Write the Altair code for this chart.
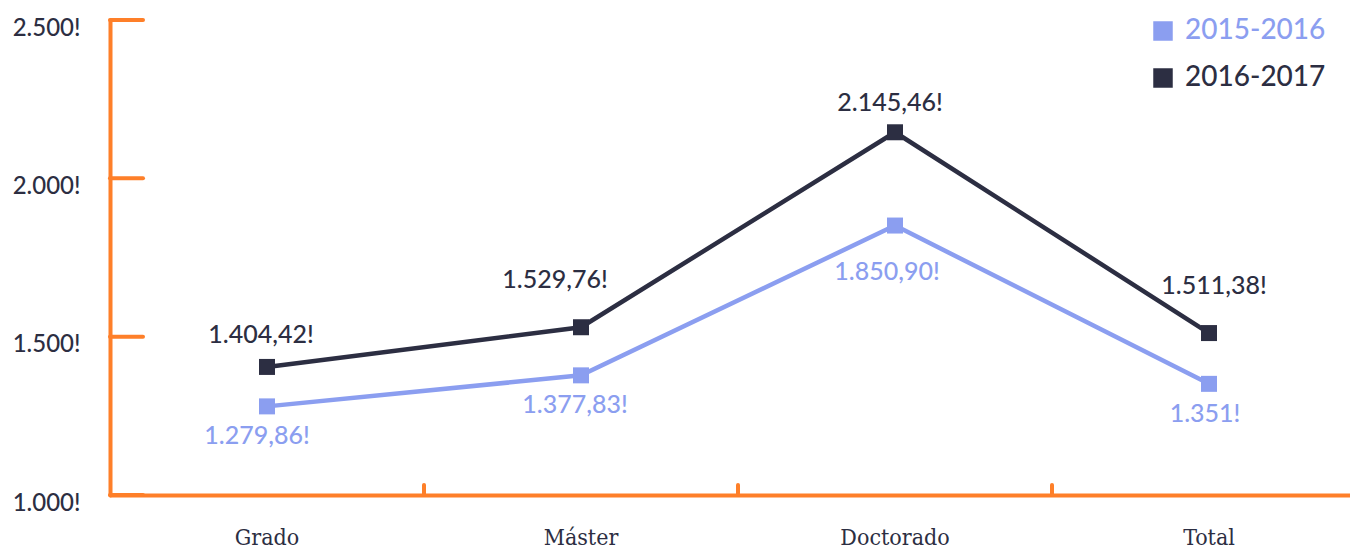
import altair as alt
import pandas as pd

categories = ["Grado", "Máster", "Doctorado", "Total"]
series = ["2015-2016", "2016-2017"]
v2015 = [1279.86, 1377.83, 1850.90, 1351.0]
v2016 = [1404.42, 1529.76, 2145.46, 1511.38]
lab2015 = ["1.279,86!", "1.377,83!", "1.850,90!", "1.351!"]
lab2016 = ["1.404,42!", "1.529,76!", "2.145,46!", "1.511,38!"]
yticks = [1000, 1500, 2000, 2500]

ORANGE = "#fe7f29"
DARK = "#2c2e42"
LIGHT = "#8b9ef0"

# label placement (pixel offsets from the marker), style only
offsets = {
    ("2016-2017", "Grado"): (-6, -32),
    ("2016-2017", "Máster"): (-26, -47),
    ("2016-2017", "Doctorado"): (-5, -29),
    ("2016-2017", "Total"): (5, -47),
    ("2015-2016", "Grado"): (-10, 30),
    ("2015-2016", "Máster"): (-6, 30),
    ("2015-2016", "Doctorado"): (-8, 46),
    ("2015-2016", "Total"): (-4, 30),
}

rows = []
for c, a, b, la, lb in zip(categories, v2015, v2016, lab2015, lab2016):
    rows.append({"cat": c, "serie": series[0], "val": a, "lab": la})
    rows.append({"cat": c, "serie": series[1], "val": b, "lab": lb})
df = pd.DataFrame(rows)
ticks_df = pd.DataFrame({"v": yticks})
cats_df = pd.DataFrame({"cat": categories[1:]})

W, H = 1240, 475
xscale = alt.Scale(domain=categories, range=[0, 1256], paddingInner=0, paddingOuter=0)
yscale = alt.Scale(domain=[1000, 2500], nice=False, zero=False)
cscale = alt.Scale(domain=series, range=[LIGHT, DARK])

legend = alt.Legend(orient="none", legendX=1039, legendY=-3,
                    symbolType="square", symbolSize=380,
                    symbolStrokeWidth=0, labelFont="Lato", labelFontWeight=500,
                    labelFontSize=28, rowPadding=19, labelOffset=8,
                    labelColor={"expr": "datum.label === '2015-2016' ? '#8b9ef0' : '#2c2e42'"})

x_enc = alt.X("cat:N", scale=xscale, sort=categories, title=None,
              axis=alt.Axis(domainColor=ORANGE, domainWidth=4, ticks=False,
                            labelFont="DejaVu Serif Condensed", labelFontSize=23,
                            labelColor=DARK, labelPadding=42, labelAngle=0,
                            labelAlign="center", labelBaseline="middle"))
y_enc = alt.Y("val:Q", scale=yscale, title=None,
              axis=alt.Axis(values=yticks, domainColor=ORANGE, domainWidth=4, ticks=False,
                            grid=False, labelFont="Lato", labelFontSize=24, labelColor=DARK,
                            labelFontWeight=500, labelPadding=30, labelOffset=8,
                            labelExpr="replace(format(datum.value, ','), ',', '.') + '!'"))

base = alt.Chart(df)

lines = base.mark_line(strokeWidth=4.5).encode(
    x=x_enc, y=y_enc,
    color=alt.Color("serie:N", scale=cscale, title=None, legend=legend),
    detail="serie:N",
)

points = base.mark_square(size=256, opacity=1, filled=True).encode(
    x=alt.X("cat:N", scale=xscale, sort=categories),
    y=alt.Y("val:Q", scale=yscale),
    color=alt.Color("serie:N", scale=cscale, title=None, legend=legend),
)

texts = []
for (s, c), (dx, dy) in offsets.items():
    texts.append(
        base.transform_filter((alt.datum.serie == s) & (alt.datum.cat == c)).mark_text(
            font="Lato", fontSize=25, fontWeight=500, color=(DARK if s == series[1] else LIGHT),
            dx=dx, dy=dy, baseline="middle", align="center"
        ).encode(x=alt.X("cat:N", scale=xscale, sort=categories),
                 y=alt.Y("val:Q", scale=yscale), text="lab:N")
    )

yrules = alt.Chart(ticks_df).mark_rule(color=ORANGE, strokeWidth=4, strokeCap="round").encode(
    y=alt.Y("v:Q", scale=yscale), x=alt.value(0), x2=alt.value(33)
)

xrules = alt.Chart(cats_df).mark_rule(color=ORANGE, strokeWidth=4, strokeCap="round").encode(
    x=alt.X("cat:N", scale=xscale, sort=categories, bandPosition=0),
    y=alt.value(H - 10), y2=alt.value(H),
)

chart = alt.layer(xrules, yrules, lines, points, *texts).properties(
    width=W, height=H,
    autosize=alt.AutoSizeParams(type="none"),
    padding={"left": 102, "top": 12, "right": 0, "bottom": 56},
).configure_view(stroke=None).configure_axis(domainCap="round")

chart.save("out.html", embed_options={"renderer": "svg", "actions": False})
